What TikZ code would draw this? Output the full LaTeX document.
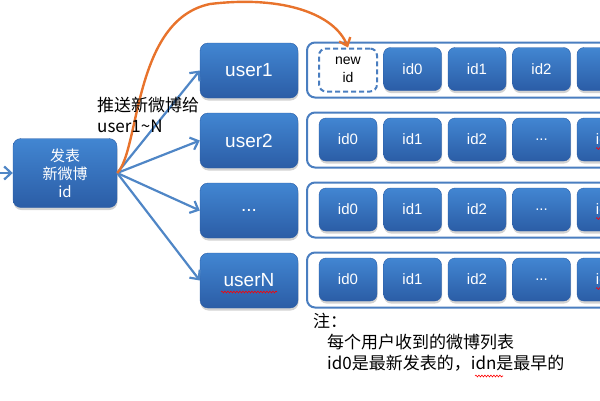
\documentclass[tikz,border=0pt]{standalone}
\usepackage{fontspec}
\setmainfont{Liberation Sans}
\newfontfamily\cjk{Noto Sans CJK SC}
\usetikzlibrary{arrows.meta}
\usetikzlibrary{shadows}
\usetikzlibrary{decorations.pathmorphing}

\definecolor{boxtop}{HTML}{4286D2}
\definecolor{boxbot}{HTML}{2B5DA6}
\definecolor{rim}{HTML}{4A7EC0}
\definecolor{pushblue}{HTML}{4F86C6}
\definecolor{curve}{HTML}{E8732C}
\newcommand{\celldots}{...}

\begin{document}
\begin{tikzpicture}[x=1pt,y=-1pt,
    bluebox/.style={rounded corners=8pt, top color=boxtop, bottom color=boxbot, draw=boxbot,
        text=white, drop shadow={shadow xshift=0.5pt,shadow yshift=-2.5pt,opacity=0.35}},
    userbox/.style={bluebox, minimum width=98pt, minimum height=55pt, font=\fontsize{19}{19}\selectfont},
    idbox/.style={bluebox, rounded corners=7pt, minimum width=58pt, minimum height=43pt, font=\fontsize{15}{15}\selectfont},
    newbox/.style={draw=rim, fill=white, line width=2pt, dash pattern=on 5pt off 3pt, rounded corners=7pt,
        minimum width=58pt, minimum height=43pt, align=center, font=\fontsize{14}{18}\selectfont},
    rowbox/.style={draw=rim, fill=white, line width=2pt, rounded corners=8pt, minimum width=343pt, minimum height=55pt},
    pusharrow/.style={pushblue, line width=2.2pt, -{Straight Barb[length=7pt,width=13pt]}},
    pushcurve/.style={curve, line width=2.4pt, -{Straight Barb[length=7pt,width=12pt]}},
    spell/.style={red, line width=0.6pt, decorate, decoration={snake, amplitude=0.9pt, segment length=3pt}}]
    \useasboundingbox (0,0) rectangle (600,400);
    \clip (0,0) rectangle (600,400);

    % sender
    \node[bluebox, minimum width=104pt, minimum height=69pt, align=center,
        font=\cjk\fontsize{15}{18}\selectfont] (post) at (65,173) {发表\\新微博\\id};
    \coordinate (src) at (-30,173);
    \draw[pusharrow] (src) -- (post.west);

    % users
    \foreach \n/\name/\yy in {1/user1/70, 2/user2/140, 3/\celldots/210, 4/userN/280}
        \node[userbox] (u\n) at (249,\yy+0.5) {\name};
    \foreach \n in {1,2,3,4}
        \draw[pusharrow] (post.east) -- (u\n.west);

    % lists
    \foreach \r/\yy in {1/70, 2/140, 3/210, 4/280}
        \node[rowbox] (row\r) at (478.5,\yy) {};
    \node[newbox] (newid) at (348,70) {new\\id};
    \foreach \c/\t in {1/id0, 2/id1, 3/id2, 4/\celldots}
        \node[idbox] (r1c\c) at (348+64.5*\c,69) {\t};
    \foreach \r/\yy in {2/140, 3/210, 4/280} {
        \foreach \c/\t in {0/id0, 1/id1, 2/id2, 3/\celldots, 4/idn}
            \node[idbox] (r\r c\c) at (348+64.5*\c,\yy-0.5) {\t};
        \draw[spell] ([shift={(-10,9)}]r\r c4.center) -- ++(20,0);
    }

    % push of the new id
    \draw[pushcurve] (post.east) .. controls (140,150) and (133,20) .. (210,4)
        .. controls (285,-5) and (335,15) .. (newid.north);

    \node[anchor=north west, align=left, inner sep=0pt,
        font=\cjk\fontsize{17}{21}\selectfont] (pushlbl) at (97,97) {推送新微博给\\user1\textasciitilde N};

    % note
    \node[anchor=north west, align=left, inner sep=0pt,
        font=\cjk\fontsize{17}{21}\selectfont] (note) at (313,313)
        {注：\\\hspace*{14pt}每个用户收到的微博列表\\\hspace*{14pt}id0是最新发表的，idn是最早的};
    \draw[spell] ([shift={(-28,11.5)}]u4.center) -- ++(56,0);
    \draw[spell] (475,376) -- (503,376);
\end{tikzpicture}
\end{document}
